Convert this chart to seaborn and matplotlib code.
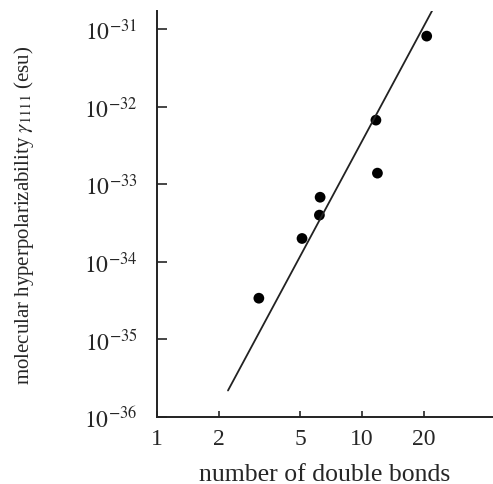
import numpy as np
import pandas as pd
import seaborn as sns
from matplotlib import pyplot as plt
from matplotlib.ticker import FixedLocator, NullLocator

# measured points: number of double bonds vs gamma_1111 (esu)
bonds = [3.14, 5.1, 6.2, 6.25, 11.7, 11.9, 20.7]
gamma = [3.4e-35, 2.0e-34, 4.0e-34, 6.8e-34, 6.7e-33, 1.39e-33, 8.1e-32]

# fitted power-law line (end points)
fit_bonds = [2.22, 22.2]
fit_gamma = [2.2e-36, 1.8e-31]

x_ticks = [1, 2, 5, 10, 20]
x_labels = ['1', '2', '5', '10', '20']
y_exps = [-36, -35, -34, -33, -32, -31]

sns.set_style('ticks')
plt.rcParams['font.family'] = ['Liberation Serif', 'DejaVu Serif']
plt.rcParams['mathtext.fontset'] = 'stix'

fig = plt.figure(figsize=(4.93, 4.85), dpi=100)
ax = fig.add_axes([0.3185, 0.138, 0.6815, 0.837])

pts = pd.DataFrame({'bonds': bonds, 'gamma': gamma})
fit = pd.DataFrame({'bonds': fit_bonds, 'gamma': fit_gamma})

sns.lineplot(data=fit, x='bonds', y='gamma', color='#222222', linewidth=1.3, ax=ax)
sns.scatterplot(data=pts, x='bonds', y='gamma', color='black', s=60, edgecolor='none', ax=ax)

ax.set_xscale('log')
ax.set_yscale('log')
ax.set_xlim(1, 43.6)
ax.set_ylim(1e-36, 1.7e-31)

ax.xaxis.set_major_locator(FixedLocator(x_ticks))
ax.xaxis.set_minor_locator(NullLocator())
ax.set_xticklabels(x_labels)
ax.yaxis.set_major_locator(FixedLocator([10.0 ** e for e in y_exps]))
ax.yaxis.set_minor_locator(NullLocator())
ax.set_yticklabels([r'$10^{%d}$' % e for e in y_exps])

ax.tick_params(axis='x', direction='in', length=4.5, width=1.2, labelsize=17, pad=8)
ax.tick_params(axis='y', direction='in', length=7, width=1.2, labelsize=17, pad=14)

sns.despine(ax=ax)
for side in ['left', 'bottom']:
    ax.spines[side].set_linewidth(1.4)
    ax.spines[side].set_color('#222222')

ax.set_xlabel('number of double bonds', fontsize=18.5, labelpad=10)
ax.set_ylabel(r'molecular hyperpolarizability $\gamma_{1111}$ (esu)', fontsize=15)
ax.yaxis.set_label_coords(-0.36, 0.5)

fig.savefig('out.png', dpi=100)
